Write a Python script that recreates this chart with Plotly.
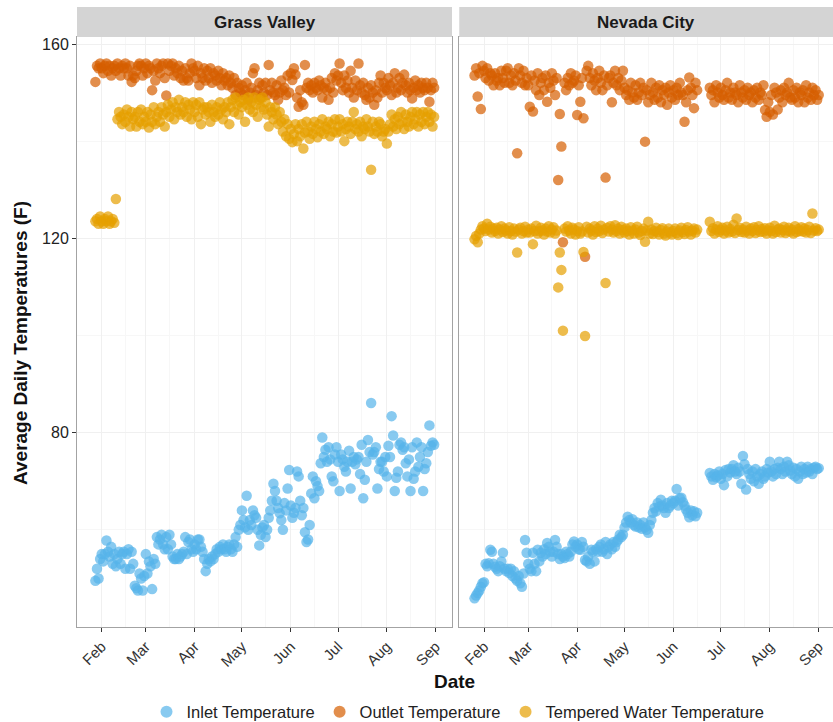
import pandas as pd
import plotly.graph_objects as go
from plotly.subplots import make_subplots

# daily averages, Grass Valley starts 2017-01-28 (216 days)
gv_start = "2017-01-28"
gv_inlet = [
    49.5, 52, 50, 54,
    55, 53.5, 55, 57.8, 55.5, 54.5, 56.5, 53, 55, 52.5, 54, 55.5, 53, 55,
    55.5, 52, 55, 56, 52, 55.5, 53, 48.5, 48, 47.5, 51, 50, 47.5, 50.5,
    55, 51, 53.5, 52.5, 47.8, 54, 53, 58.5, 57, 58, 59, 57, 56, 58.5,
    56, 59, 57, 54.5, 54, 54, 55, 54, 54.5, 55, 55.5, 58.5, 55, 57.5, 58, 56, 55.5,
    57, 56, 58, 58, 56.5, 55.5, 54, 51.5, 53, 54, 53.5, 54.5, 54, 55,
    56, 55.5, 56.5, 56, 57, 56, 55.5, 56.5, 57, 56, 55.5, 57, 58.5, 56.5, 60, 61,
    64, 62, 60.5, 67, 60, 62, 61, 64, 63, 62.5, 60, 56.8, 59, 60.5,
    61, 58.5, 60, 62.5, 64, 66, 69.5, 68, 66, 64.5, 63.4, 62, 60, 65.5, 64, 68.5, 72.3,
    65, 62.5, 63.5, 64.5, 72, 71, 66, 63, 64.5, 59.5, 57.5, 58, 61, 67.5,
    71, 66.5, 70, 69, 68, 73.7, 79, 75, 76.5, 74, 77, 74.5, 71, 70, 75.5, 77,
    74, 68, 75.5, 74.5, 73, 72, 74, 76.3, 68.5, 74, 75, 73.5, 74.5, 75,
    71.5, 77.5, 66.5, 70.3, 74, 78.5, 76, 86.1, 75.5, 76, 77, 68.5, 72.5, 74, 74, 72, 75,
    71, 77.3, 75, 83.4, 79.4, 68, 70.7, 72, 77.5, 78, 76.5, 77, 73.7, 71,
    74.5, 68, 77, 70.5, 72, 78, 73, 75, 77, 68, 72.5, 73.7, 76, 81.5, 77.3, 78, 77.5,
]
gv_outlet = [
    152.2, 155.5, 155, 156,
    155, 154, 155.5, 156, 154.5, 155.5, 153.5, 155, 155.5, 154.5, 156, 155, 153.5, 155.5,
    155, 156, 155, 153.5, 155.5, 152.2, 153.5, 153, 154.5, 155.5, 156, 155.5, 153.5, 155,
    156, 154, 155.5, 155, 150.5, 154.5, 152.5, 156, 155, 154, 155.5, 156, 153, 149.4,
    156, 154.5, 155.5, 156, 153.5, 155, 154, 155.5, 153, 154.5, 152.5, 155, 153, 152.5, 154, 156, 155,
    154.5, 153, 155.5, 151.5, 154, 153, 155, 152.5, 154.5, 153, 155, 152, 154, 153.5,
    152.5, 154.5, 153, 151.5, 154, 152.5, 153, 151.5, 153.5, 152, 151, 153, 149.5, 152, 151, 150,
    151.5, 149.5, 150.5, 152, 148.5, 150, 151, 154, 155, 149.5, 150.5, 152, 149, 151.5,
    150, 152, 149.5, 155.7, 150.5, 152, 150, 149.5, 151.5, 148.5, 150, 152.5, 150.5, 151, 149.5, 153.5, 150,
    154, 152.6, 155, 153.7, 149, 147.1, 150.5, 148, 147.5, 155.7, 151, 152, 150.5, 151.5,
    150, 152, 151, 150.5, 152.5, 151.5, 149, 151, 152, 150.5, 148.5, 151, 153, 150, 154, 152.5,
    153.5, 156, 152, 150.5, 153.5, 151, 152.5, 150, 154.5, 151, 149, 152.5, 150.5, 156,
    151.5, 150, 152, 149.5, 148.5, 151, 149, 151.5, 150, 147.5, 150.5, 149, 152, 153.5, 150, 152, 151,
    150.5, 153, 151.5, 149.5, 152, 154, 150, 151, 153, 150.5, 152, 153.7, 151.5, 150,
    152, 150.5, 148.8, 151, 152.5, 150.5, 151.5, 150, 152, 151, 150.5, 152, 151, 148.1, 150.5, 152, 151,
]
gv_tempered = [
    123.5, 124, 123, 124.5,
    123.5, 123, 124, 123.5, 124.5, 123, 123.5, 124, 123.2, 128.1, 144.5, 146, 145, 143.5,
    145.5, 144, 146.5, 145, 143, 146, 144.5, 145, 143, 146, 144, 146.5, 143.5, 145,
    144, 146, 142.8, 145.5, 144, 147, 143.5, 145, 146, 144, 147, 145.5, 143, 146,
    147.5, 145, 146.5, 148, 144.5, 147, 146, 148.5, 145.5, 147, 146, 148, 145, 147.5, 146.5, 144.5, 148,
    146, 147.5, 145, 148, 143.5, 146.5, 147, 145.5, 147, 146, 144, 147.5, 146, 145,
    147, 145.5, 148, 146.5, 144.5, 147, 146, 148, 143.5, 147, 148.5, 146, 149, 147.5, 145.5, 148,
    147, 148.5, 144, 147.5, 149, 146.5, 148, 146, 149, 147.5, 145, 148.5, 147, 149,
    146.5, 148, 145.5, 143, 147, 146, 144.5, 147, 145.5, 143.5, 146, 144, 142, 144.5, 141, 143.5, 140.5,
    142.5, 139.8, 141.5, 143.5, 140, 142.5, 141, 143.5, 138.5, 141.8, 144, 142, 140.5, 143,
    141.5, 144, 142.5, 140.8, 143.5, 142, 144.5, 141.5, 143, 142.5, 144, 141, 143.5, 142, 144.5, 141.8,
    143, 144.5, 142, 143.5, 140, 142.5, 144, 143, 141.5, 144, 146, 142.5, 143.5, 142,
    144, 141, 143, 142.5, 144.5, 143, 142, 134.1, 144, 141.5, 143, 142, 144, 143.5, 141, 142, 142.5,
    139.5, 142, 143.5, 145.5, 143, 144.5, 142.5, 145, 143.5, 146, 144, 142.5, 145.5, 144,
    143, 145, 146, 143.5, 144.5, 146, 143, 145.5, 144, 146, 143.5, 145, 146, 144, 145.5, 143, 145,
]

# Nevada City starts 2017-01-26 (219 days), no readings 17-23 June
nc_start = "2017-01-26"
gap = [None] * 7
nc_inlet = [
    45.9, 46.5, 47, 47.5, 48.3, 49,
    49.2, 53, 52.5, 53.1, 55.9, 55.5, 53, 52.4, 52, 51.5, 52.5, 53.5, 55.3, 52,
    51.5, 52, 51.1, 52, 50.5, 51.5, 50, 49.5, 50.5, 49, 48.3, 51, 57.9, 55.3,
    53, 52, 51.5, 55.3, 53, 51.5, 55.9, 53.5, 55.3, 54.5, 56, 55, 57.3, 56.5,
    55.5, 54.5, 55.5, 57.9, 56.5, 55, 54, 55, 54.5, 54.2, 55.5, 55, 54.5, 55.5, 57, 57.6, 56.5,
    57, 56, 55.9, 57.5, 56.5, 53.8, 53.5, 54.5, 53, 55.9, 55.5, 53.5, 56, 55.5,
    56.5, 57, 55.5, 56, 57.5, 55, 56.5, 57, 56, 57.5, 56.5, 57.5, 58, 59, 58.5, 59,
    60.5, 61.5, 62.7, 62, 61.5, 62.2, 61, 60.7, 61.5, 60.5, 61, 60.2, 61.5, 60.5,
    60, 59.4, 61, 62, 63.5, 64.5, 63.8, 65.5, 64.8, 66.2, 65, 64.5, 63.5, 65.5, 64.5, 65, 66,
    65.5, 66, 68.4, 65, 66.5, 66.6, 65.7, 65, 64.2, 63.5, 62.6, 64, 63, 63.8, 62.8, 63.5,
] + gap + [
    71.7, 71, 70.3, 71.5, 70.8, 71.2, 72,
    70.5, 71.5, 69.2, 72.3, 71, 72.5, 71.8, 72.5, 73.3, 72, 71.5, 72.8, 72, 69.5,
    75.2, 73.5, 68.3, 72.5, 71.5, 70.5, 72, 70, 72.5, 71, 69.5, 71.5, 72, 70.5, 71, 72.5, 71.8,
    74, 72, 71, 72.5, 71.5, 72.8, 74, 72.5, 71.5, 73, 72, 74, 73.3, 72.2,
    71.5, 72.8, 71, 72.5, 70.5, 72, 73, 71.5, 72.5, 71.8, 73, 72, 72.5, 71.5, 72.8, 73, 72.5,
    72.7,
]
nc_outlet = [
    153.5, 155, 149.2, 154, 146.6, 155.5,
    154.5, 153, 155, 152.5, 154, 153.5, 151.5, 154, 152.5, 153, 151.5, 154.5, 153, 152,
    154.5, 155, 152, 153.5, 151.5, 154, 152.5, 137.5, 155, 153.5, 152, 154.5, 151.5, 153,
    151.5, 147.1, 153.5, 146.1, 152.5, 150.5, 154, 149.5, 152, 153, 150.5, 153.5, 148.1, 152,
    151, 154, 152.5, 149.5, 153, 132, 145.6, 138.9, 119.2, 152, 150.5, 153, 151.5, 154, 152, 152.5, 153.5,
    145.4, 151.5, 148.1, 153, 144.7, 116.2, 154.5, 155.5, 153, 151.5, 154, 152.5, 150.5, 153,
    154.5, 152, 150.5, 153.5, 132.5, 151.5, 153, 153.5, 148, 152, 154.5, 151.5, 153, 150.5, 152.5, 154.5,
    151, 149.5, 150.5, 148.5, 152, 150, 149, 151.5, 148.5, 150, 152, 149.5, 151, 139.9,
    150.5, 148, 149.5, 152, 150, 148.5, 151, 149, 151.5, 148, 150.5, 149.5, 151, 147.5, 150, 151.5, 149,
    150.5, 148.5, 151, 149.5, 152, 150, 149.5, 144, 148, 150.5, 153.1, 151, 149.5, 146.8, 152, 150.5,
] + gap + [
    151, 149.5, 150.5, 148, 151.5, 150, 149,
    151, 149.5, 148.5, 150.5, 152, 149, 150, 148.5, 151, 150, 149.5, 148, 151.5, 150,
    149, 150.5, 148.5, 151, 149.5, 150, 148, 150.5, 149, 151, 148.5, 150, 149.5, 151.5, 146.4, 145, 148,
    146, 149.5, 145.5, 151, 150, 146.5, 149, 150.5, 148, 151, 149.5, 150, 152, 149,
    148.5, 150.5, 149, 151, 148, 150, 149.5, 150.5, 148, 151.5, 149, 150, 148.5, 151, 149.5, 150.5, 148.5,
    149.5,
]
nc_tempered = [
    119.8, 120.5, 119.2, 121, 121.8, 122.5,
    122, 121.5, 123, 121.8, 122.4, 121.2, 122, 121.5, 122.2, 121, 121.8, 122.5, 121.3, 122,
    121.6, 121, 122.3, 121.5, 120.8, 122, 121.4, 117.1, 121.8, 122.2, 121, 121.5, 122.4, 121.2,
    121.8, 121.2, 122, 118.8, 121.5, 122.6, 121, 121.5, 122.2, 121.6, 120.8, 122, 121.4, 122.5,
    121.2, 121.8, 122.3, 121, 121.6, 109.9, 117.1, 113.5, 101, 122, 121.4, 122.5, 121.6, 121, 122.2, 121.8, 120.8,
    121.5, 122.3, 121, 121.4, 117.2, 99.9, 122.4, 121.2, 122, 121.6, 120.8, 122.5, 121.3, 122,
    121.5, 122.6, 121.1, 121.8, 110.8, 122.2, 121.4, 122.5, 121.8, 121.2, 122.7, 121.5, 122, 121, 122.4, 121.7,
    121.2, 122, 121.5, 120.8, 122.3, 121.6, 121, 121.8, 122.4, 121.2, 120.7, 121.5, 122, 119.3,
    121.6, 123.4, 121, 121.8, 120.9, 121.5, 122.2, 121.3, 120.8, 121.7, 122.1, 121, 120.6, 121.4, 122, 121.2, 120.8,
    121.5, 122, 121.1, 120.7, 121.6, 122.2, 121.3, 120.9, 121.7, 122.3, 121.4, 120.8, 121.6, 122, 121.2, 121.8,
] + gap + [
    123.4, 121.5, 122.1, 121, 121.8, 122.5, 121.3,
    121.7, 122.2, 121, 121.6, 122.4, 121.2, 121.9, 121.4, 122.8, 121.1, 124.1, 121.7, 122.2, 121.3,
    121.8, 121.2, 122.4, 121.6, 121, 122, 121.5, 122.3, 121.1, 121.7, 122.5, 121.3, 121.9, 121.4, 122.1, 121, 121.6,
    122.2, 121.5, 121, 122.6, 121.3, 121.8, 122, 121.2, 121.7, 122.4, 121.1, 121.6, 122.2, 121.4,
    121.8, 121, 122.5, 121.3, 121.9, 121.5, 122.3, 121.4, 122, 121.2, 121.7, 122.4, 121.1, 125.1, 121.6, 122.1, 121.5,
    121.8,
]

series_names = ["Inlet Temperature", "Outlet Temperature", "Tempered Water Temperature"]
colors = ["#56B4E9", "#D55E00", "#E69F00"]
sites = ["Grass Valley", "Nevada City"]

gv_dates = pd.date_range(gv_start, periods=len(gv_inlet), freq="D")
nc_dates = pd.date_range(nc_start, periods=len(nc_inlet), freq="D")
panels = [
    (gv_dates, [gv_inlet, gv_outlet, gv_tempered]),
    (nc_dates, [nc_inlet, nc_outlet, nc_tempered]),
]

W, H = 833, 722
font = "Liberation Sans, Arial, sans-serif"
border = "#A3A3A3"
grid = "#F0F0F0"

fig = make_subplots(rows=1, cols=2, shared_yaxes=True)

for col, (dates, values) in enumerate(panels, start=1):
    for name, color, vals in zip(series_names, colors, values):
        fig.add_trace(go.Scatter(
            x=dates, y=vals, mode="markers", name=name,
            legendgroup=name, showlegend=(col == 1),
            marker=dict(color=color, size=10.5, opacity=0.7, line_width=0),
        ), row=1, col=col)

xcommon = dict(
    dtick="M1", tick0="2017-01-01", tickformat="%b",
    tickangle=-45, ticks="outside", ticklen=4, tickcolor="#333333",
    tickfont=dict(size=15, color="#333333"),
    showline=True, linecolor=border, linewidth=1, mirror=True,
    showgrid=True, gridcolor=grid, gridwidth=1, zeroline=False,
    minor=dict(dtick="M1", tick0="2017-01-16", showgrid=True,
               gridcolor="#F7F7F7", gridwidth=0.5),
    automargin=False,
)
fig.update_layout(
    xaxis=dict(domain=[77 / W, 452 / W], range=["2017-01-16 07:40", "2017-09-11 08:10"], **xcommon),
    xaxis2=dict(domain=[459.25 / W, 1.0], range=["2017-01-16 07:40", "2017-09-10 01:00"], **xcommon),
)
ycommon = dict(
    range=[40, 161.44], tickvals=[80, 120, 160],
    showline=True, linecolor=border, linewidth=1, mirror=True,
    showgrid=True, gridcolor=grid, gridwidth=1, zeroline=False,
    minor=dict(dtick=20, tick0=0, showgrid=True, gridcolor="#F7F7F7", gridwidth=0.5),
    domain=[95 / H, 685 / H], automargin=False,
)
fig.update_layout(
    yaxis=dict(ticks="outside", ticklen=4, tickcolor="#333333",
               tickfont=dict(size=16, color="#222222"), **ycommon),
    yaxis2=dict(ticks="", showticklabels=False, **ycommon),
)

# facet strips
for i, site in enumerate(sites):
    xref = "x domain" if i == 0 else "x2 domain"
    fig.add_shape(type="rect", xref=xref, yref="paper", x0=0, x1=1,
                  y0=685 / H, y1=715 / H, fillcolor="#D4D4D4", line_width=0)
    fig.add_annotation(text="<b>%s</b>" % site, xref=xref, yref="paper",
                       x=0.5, y=700 / H, xanchor="center", yanchor="middle",
                       showarrow=False, font=dict(size=17, color="#1A1A1A"))

fig.add_annotation(text="<b>Date</b>", xref="paper", yref="paper",
                   x=455 / W, y=(H - 681) / H, xanchor="center", yanchor="middle",
                   showarrow=False, font=dict(size=19, color="#111111"))
fig.add_annotation(text="<b>Average Daily Temperatures (F)</b>", textangle=-90,
                   xref="paper", yref="paper", x=20 / W, y=(H - 343) / H,
                   xanchor="center", yanchor="middle",
                   showarrow=False, font=dict(size=19, color="#111111"))

fig.update_layout(
    width=W, height=H,
    margin=dict(l=0, r=0, t=0, b=0, autoexpand=False),
    paper_bgcolor="white", plot_bgcolor="white",
    font=dict(family=font, color="#222222"),
    legend=dict(orientation="h", x=458 / W, xanchor="center",
                y=(H - 712) / H, yanchor="middle",
                font=dict(size=16.5, color="#222222"),
                itemsizing="constant", tracegroupgap=0),
)

# drop the default page margin so the figure fills the window
fig.write_html("out.html", config={"displayModeBar": False},
               post_script="document.body.style.margin='0';")
